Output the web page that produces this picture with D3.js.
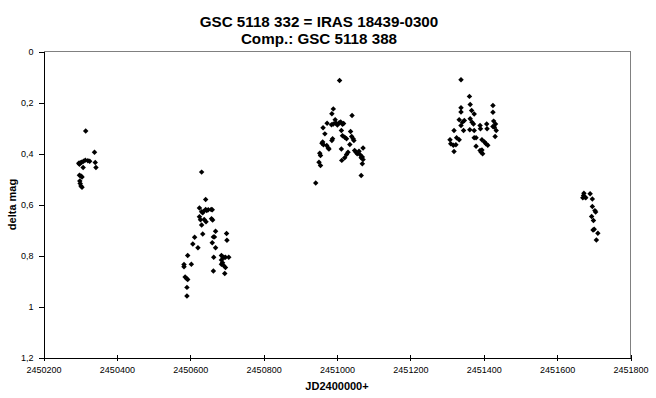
<!DOCTYPE html>
<html>
<head>
<meta charset="utf-8">
<script src="https://cdn.jsdelivr.net/npm/d3@7"></script>
<style>
  body { margin: 0; background: #fff; }
  svg { display: block; font-family: Arial, "Liberation Sans", sans-serif; }
</style>
</head>
<body>
<svg width="656" height="398"></svg>
<script>
// observations per season, [JD, delta mag]
const season1996 = [
  [2450315,0.312],[2450339,0.395],[2450296,0.438],[2450298,0.442],[2450300,0.436],[2450304,0.434],
  [2450309,0.430],[2450314,0.426],[2450321,0.428],[2450326,0.430],[2450308,0.455],[2450341,0.435],
  [2450343,0.455],[2450298,0.485],[2450302,0.488],[2450305,0.492],[2450299,0.508],[2450300,0.518],
  [2450302,0.527],[2450305,0.532]
];
const season1997 = [
  [2450631,0.473],[2450642,0.580],[2450625,0.614],[2450631,0.628],[2450634,0.632],[2450636,0.627],
  [2450642,0.620],[2450645,0.624],[2450649,0.621],[2450657,0.620],[2450660,0.621],[2450625,0.648],
  [2450628,0.660],[2450631,0.680],[2450638,0.659],[2450643,0.668],[2450658,0.656],[2450661,0.661],
  [2450634,0.716],[2450669,0.705],[2450699,0.714],[2450663,0.727],[2450666,0.727],[2450612,0.728],
  [2450700,0.740],[2450607,0.755],[2450660,0.750],[2450621,0.770],[2450669,0.770],[2450593,0.800],
  [2450664,0.807],[2450685,0.800],[2450689,0.806],[2450692,0.808],[2450696,0.807],[2450705,0.807],
  [2450685,0.818],[2450688,0.828],[2450685,0.834],[2450583,0.835],[2450583,0.844],[2450603,0.834],
  [2450691,0.839],[2450696,0.847],[2450663,0.861],[2450694,0.871],[2450586,0.884],[2450590,0.890],
  [2450593,0.894],[2450591,0.925],[2450591,0.959]
];
const season1998 = [
  [2451007,0.114],[2450990,0.225],[2450986,0.244],[2451041,0.251],[2450995,0.268],[2450973,0.281],
  [2450985,0.287],[2450990,0.284],[2450997,0.280],[2451001,0.288],[2451006,0.279],[2451010,0.276],
  [2451015,0.285],[2451018,0.282],[2450962,0.299],[2450967,0.323],[2451012,0.310],[2451037,0.314],
  [2451015,0.330],[2451021,0.336],[2451026,0.342],[2450988,0.342],[2450986,0.349],[2451040,0.333],
  [2451044,0.342],[2451046,0.349],[2450961,0.355],[2450959,0.360],[2450963,0.366],[2451035,0.365],
  [2450972,0.369],[2450976,0.378],[2450978,0.382],[2451012,0.382],[2451071,0.378],[2451048,0.388],
  [2451052,0.395],[2451055,0.401],[2451030,0.395],[2451026,0.404],[2451060,0.391],[2451063,0.405],
  [2451066,0.417],[2451021,0.417],[2451013,0.427],[2450953,0.399],[2450955,0.408],[2451069,0.414],
  [2451071,0.424],[2451069,0.440],[2450951,0.434],[2450955,0.447],[2451066,0.486],[2450942,0.516]
];
const season1999 = [
  [2451338,0.111],[2451361,0.176],[2451363,0.208],[2451338,0.221],[2451338,0.237],[2451367,0.231],
  [2451374,0.245],[2451425,0.212],[2451425,0.238],[2451333,0.268],[2451342,0.277],[2451338,0.290],
  [2451347,0.271],[2451363,0.264],[2451368,0.277],[2451372,0.284],[2451319,0.310],[2451345,0.310],
  [2451362,0.307],[2451374,0.310],[2451390,0.290],[2451391,0.303],[2451408,0.284],[2451409,0.303],
  [2451427,0.273],[2451432,0.284],[2451429,0.297],[2451434,0.310],[2451425,0.294],[2451431,0.333],
  [2451326,0.338],[2451333,0.346],[2451308,0.346],[2451310,0.362],[2451317,0.368],[2451324,0.366],
  [2451319,0.392],[2451374,0.338],[2451379,0.338],[2451379,0.372],[2451395,0.346],[2451402,0.355],
  [2451406,0.362],[2451411,0.368],[2451395,0.386],[2451393,0.395],[2451397,0.401],[2451390,0.388]
];
const season2000 = [
  [2451673,0.556],[2451672,0.565],[2451676,0.571],[2451670,0.574],[2451678,0.574],[2451690,0.558],
  [2451696,0.578],[2451696,0.608],[2451703,0.624],[2451705,0.629],[2451694,0.647],[2451699,0.663],
  [2451701,0.697],[2451698,0.700],[2451711,0.713],[2451707,0.739]
];

const xTicks = [2450200, 2450400, 2450600, 2450800, 2451000, 2451200, 2451400, 2451600, 2451800];
const yTicks = [0, 0.2, 0.4, 0.6, 0.8, 1, 1.2];
const yTickLabels = ["0", "0,2", "0,4", "0,6", "0,8", "1", "1,2"];
const titleLines = ["GSC 5118 332 = IRAS 18439-0300", "Comp.: GSC 5118 388"];

const points = [].concat(season1996, season1997, season1998, season1999, season2000);

const plot = { left: 43.5, right: 630.5, top: 51.5, bottom: 357.5 };

const svg = d3.select("svg");

const x = d3.scaleLinear()
  .domain([xTicks[0], xTicks[xTicks.length - 1]])
  .range([plot.left, plot.right]);
const y = d3.scaleLinear()
  .domain([0, 1.2])
  .range([plot.top, plot.bottom]);

// grey frame on top and right
svg.append("path")
  .attr("d", `M${plot.left},${plot.top}H${plot.right}V${plot.bottom}`)
  .attr("fill", "none")
  .attr("stroke", "#808080")
  .attr("shape-rendering", "crispEdges");

// y axis
const yAxis = svg.append("g")
  .attr("transform", `translate(${plot.left},0)`)
  .call(d3.axisLeft(y).tickValues(yTicks).tickFormat((d, i) => yTickLabels[i])
    .tickSize(5).tickSizeOuter(0).tickPadding(5));

// x axis with ticks crossing the line
const xAxis = svg.append("g")
  .attr("transform", `translate(0,${plot.bottom})`)
  .call(d3.axisBottom(x).tickValues(xTicks).tickFormat(d3.format("d"))
    .tickSize(3).tickSizeOuter(0));
xAxis.selectAll(".tick line").attr("y1", -3);
xAxis.selectAll(".tick text").attr("y", 9);

svg.selectAll(".domain, .tick line")
  .attr("stroke", "#000")
  .attr("shape-rendering", "crispEdges");
svg.selectAll(".tick text")
  .attr("font-family", "Arial, 'Liberation Sans', sans-serif")
  .attr("font-size", 9)
  .attr("fill", "#000");

// markers
svg.append("g")
  .selectAll("path")
  .data(points)
  .join("path")
  .attr("d", d3.symbol(d3.symbolSquare, 15))
  .attr("transform", d => `translate(${x(d[0])},${y(d[1])}) rotate(45)`)
  .attr("fill", "#000");

// titles
svg.append("g")
  .selectAll("text")
  .data(titleLines)
  .join("text")
  .attr("x", 319)
  .attr("y", (d, i) => 27 + i * 17)
  .attr("text-anchor", "middle")
  .attr("font-size", 15.2)
  .attr("font-weight", "bold")
  .text(d => d);

svg.append("text")
  .attr("x", (plot.left + plot.right) / 2)
  .attr("y", 390)
  .attr("text-anchor", "middle")
  .attr("font-size", 11)
  .attr("font-weight", "bold")
  .text("JD2400000+");

svg.append("text")
  .attr("transform", `translate(16,${(plot.top + plot.bottom) / 2}) rotate(-90)`)
  .attr("text-anchor", "middle")
  .attr("font-size", 11)
  .attr("font-weight", "bold")
  .text("delta mag");
</script>
</body>
</html>
